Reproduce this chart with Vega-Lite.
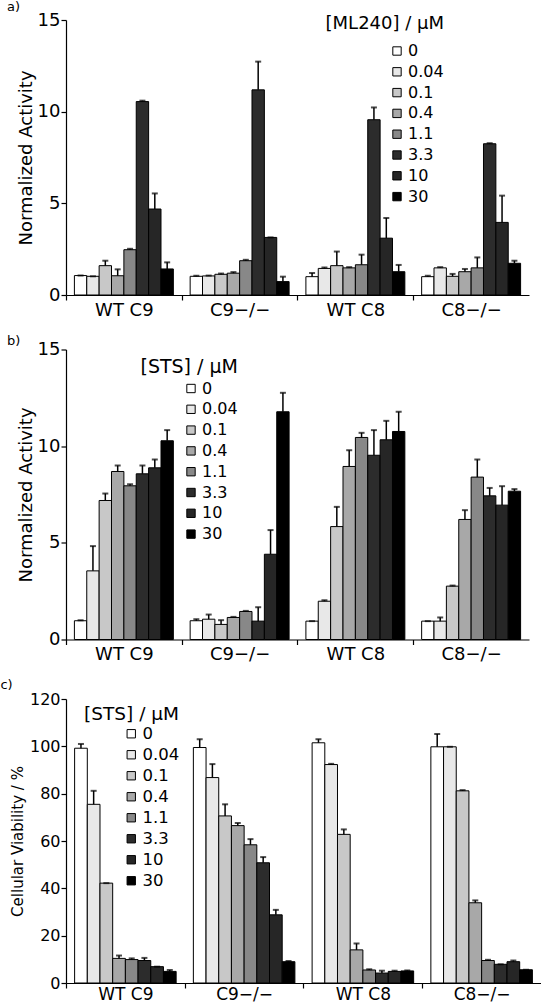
{
  "$schema": "https://vega.github.io/schema/vega-lite/v6.json",
  "padding": {"left": 0, "top": 1, "right": 0, "bottom": 0},
  "config": {
    "font": "DejaVu Sans",
    "view": {"stroke": null},
    "axis": {"domainColor": "black", "tickColor": "black", "labelColor": "black", "titleColor": "black", "labelFontSize": 18, "titleFontSize": 18, "titleFontWeight": "normal", "tickSize": 5, "grid": false, "domainWidth": 1.2, "tickWidth": 1.2},
    "legend": {"labelFontSize": 16, "titleFontSize": 18, "titleFontWeight": "normal", "labelColor": "black", "titleColor": "black", "symbolType": "square", "symbolSize": 70, "symbolStrokeColor": "black", "symbolStrokeWidth": 1, "rowPadding": 4.8, "labelOffset": 3, "padding": 0, "titleAnchor": "end"},
    "title": {"anchor": "start", "frame": "bounds", "fontSize": 13, "fontWeight": "normal", "color": "black", "dx": -10}
  },
  "datasets": {
    "a": [
      {"g":"WT C9","c":"0","v":1.06,"hi":1.06},{"g":"WT C9","c":"0.04","v":1.02,"hi":1.02},{"g":"WT C9","c":"0.1","v":1.6,"hi":1.87},{"g":"WT C9","c":"0.4","v":1.05,"hi":1.4},{"g":"WT C9","c":"1.1","v":2.47,"hi":2.52},{"g":"WT C9","c":"3.3","v":10.55,"hi":10.6},{"g":"WT C9","c":"10","v":4.69,"hi":5.54},{"g":"WT C9","c":"30","v":1.42,"hi":1.78},
      {"g":"C9−/−","c":"0","v":1.02,"hi":1.05},{"g":"C9−/−","c":"0.04","v":1.04,"hi":1.06},{"g":"C9−/−","c":"0.1","v":1.13,"hi":1.17},{"g":"C9−/−","c":"0.4","v":1.19,"hi":1.25},{"g":"C9−/−","c":"1.1","v":1.87,"hi":1.92},{"g":"C9−/−","c":"3.3","v":11.19,"hi":12.73},{"g":"C9−/−","c":"10","v":3.14,"hi":3.14},{"g":"C9−/−","c":"30","v":0.73,"hi":1.0},
      {"g":"WT C8","c":"0","v":1.0,"hi":1.2},{"g":"WT C8","c":"0.04","v":1.45,"hi":1.5},{"g":"WT C8","c":"0.1","v":1.6,"hi":2.37},{"g":"WT C8","c":"0.4","v":1.48,"hi":1.52},{"g":"WT C8","c":"1.1","v":1.65,"hi":2.2},{"g":"WT C8","c":"3.3","v":9.56,"hi":10.23},{"g":"WT C8","c":"10","v":3.1,"hi":4.2},{"g":"WT C8","c":"30","v":1.27,"hi":1.64},
      {"g":"C8−/−","c":"0","v":1.0,"hi":1.05},{"g":"C8−/−","c":"0.04","v":1.48,"hi":1.52},{"g":"C8−/−","c":"0.1","v":1.02,"hi":1.15},{"g":"C8−/−","c":"0.4","v":1.27,"hi":1.42},{"g":"C8−/−","c":"1.1","v":1.48,"hi":2.05},{"g":"C8−/−","c":"3.3","v":8.25,"hi":8.28},{"g":"C8−/−","c":"10","v":3.96,"hi":5.42},{"g":"C8−/−","c":"30","v":1.73,"hi":1.87}
    ],
    "b": [
      {"g":"WT C9","c":"0","v":0.97,"hi":0.99},{"g":"WT C9","c":"0.04","v":3.55,"hi":4.83},{"g":"WT C9","c":"0.1","v":7.19,"hi":7.55},{"g":"WT C9","c":"0.4","v":8.69,"hi":9.0},{"g":"WT C9","c":"1.1","v":7.95,"hi":8.03},{"g":"WT C9","c":"3.3","v":8.57,"hi":9.0},{"g":"WT C9","c":"10","v":8.88,"hi":9.31},{"g":"WT C9","c":"30","v":10.28,"hi":10.83},
      {"g":"C9−/−","c":"0","v":0.97,"hi":1.05},{"g":"C9−/−","c":"0.04","v":1.05,"hi":1.29},{"g":"C9−/−","c":"0.1","v":0.78,"hi":1.0},{"g":"C9−/−","c":"0.4","v":1.14,"hi":1.17},{"g":"C9−/−","c":"1.1","v":1.45,"hi":1.48},{"g":"C9−/−","c":"3.3","v":0.95,"hi":1.67},{"g":"C9−/−","c":"10","v":4.41,"hi":5.66},{"g":"C9−/−","c":"30","v":11.78,"hi":12.76},
      {"g":"WT C8","c":"0","v":0.95,"hi":0.95},{"g":"WT C8","c":"0.04","v":1.98,"hi":2.03},{"g":"WT C8","c":"0.1","v":5.84,"hi":6.86},{"g":"WT C8","c":"0.4","v":8.95,"hi":9.79},{"g":"WT C8","c":"1.1","v":10.45,"hi":10.69},{"g":"WT C8","c":"3.3","v":9.53,"hi":10.83},{"g":"WT C8","c":"10","v":10.33,"hi":11.31},{"g":"WT C8","c":"30","v":10.76,"hi":11.78},
      {"g":"C8−/−","c":"0","v":0.95,"hi":0.95},{"g":"C8−/−","c":"0.04","v":0.95,"hi":1.14},{"g":"C8−/−","c":"0.1","v":2.76,"hi":2.79},{"g":"C8−/−","c":"0.4","v":6.21,"hi":6.69},{"g":"C8−/−","c":"1.1","v":8.4,"hi":9.31},{"g":"C8−/−","c":"3.3","v":7.43,"hi":7.84},{"g":"C8−/−","c":"10","v":6.95,"hi":7.93},{"g":"C8−/−","c":"30","v":7.67,"hi":7.78}
    ],
    "c": [
      {"g":"WT C9","c":"0","v":99.2,"hi":101},{"g":"WT C9","c":"0.04","v":75.5,"hi":81.2},{"g":"WT C9","c":"0.1","v":42.2,"hi":42.2},{"g":"WT C9","c":"0.4","v":10.4,"hi":11.6},{"g":"WT C9","c":"1.1","v":9.9,"hi":10.4},{"g":"WT C9","c":"3.3","v":9.5,"hi":10.6},{"g":"WT C9","c":"10","v":6.9,"hi":6.9},{"g":"WT C9","c":"30","v":4.9,"hi":5.5},
      {"g":"C9−/−","c":"0","v":99.5,"hi":103},{"g":"C9−/−","c":"0.04","v":86.8,"hi":92.5},{"g":"C9−/−","c":"0.1","v":70.6,"hi":75.5},{"g":"C9−/−","c":"0.4","v":66.5,"hi":67.6},{"g":"C9−/−","c":"1.1","v":58.4,"hi":60.8},{"g":"C9−/−","c":"3.3","v":50.8,"hi":53.2},{"g":"C9−/−","c":"10","v":28.8,"hi":30.9},{"g":"C9−/−","c":"30","v":9.0,"hi":9.3},
      {"g":"WT C8","c":"0","v":101.5,"hi":103},{"g":"WT C8","c":"0.04","v":92.3,"hi":92.6},{"g":"WT C8","c":"0.1","v":62.8,"hi":64.9},{"g":"WT C8","c":"0.4","v":14.0,"hi":16.7},{"g":"WT C8","c":"1.1","v":5.5,"hi":5.8},{"g":"WT C8","c":"3.3","v":4.2,"hi":5.2},{"g":"WT C8","c":"10","v":4.9,"hi":5.2},{"g":"WT C8","c":"30","v":5.1,"hi":5.3},
      {"g":"C8−/−","c":"0","v":99.8,"hi":105.2},{"g":"C8−/−","c":"0.04","v":99.8,"hi":99.8},{"g":"C8−/−","c":"0.1","v":81.2,"hi":81.5},{"g":"C8−/−","c":"0.4","v":33.9,"hi":34.9},{"g":"C8−/−","c":"1.1","v":9.5,"hi":9.8},{"g":"C8−/−","c":"3.3","v":7.9,"hi":7.9},{"g":"C8−/−","c":"10","v":9.0,"hi":9.5},{"g":"C8−/−","c":"30","v":5.6,"hi":5.6}
    ]
  },
  "spacing": 15.5,
  "resolve": {"scale": {"x": "independent", "xOffset": "independent", "y": "independent", "fill": "independent"}, "legend": {"fill": "independent"}, "axis": {"x": "independent", "y": "independent"}},
  "vconcat": [
    {"hconcat": [{
      "width": 463, "height": 275,
      "title": {"text": "a)", "offset": -3},
      "data": {"name": "a"},
      "encoding": {
        "x": {"field": "g", "type": "nominal", "sort": ["WT C9","C9−/−","WT C8","C8−/−"], "scale": {"paddingInner": 0.145, "paddingOuter": 0.0725}, "axis": {"title": null, "labelAngle": 0, "tickOffset": -57.9, "labelOffset": 57.9, "labelPadding": 1}},
        "xOffset": {"field": "c", "type": "nominal", "sort": ["0","0.04","0.1","0.4","1.1","3.3","10","30"], "scale": {"paddingInner": 0, "paddingOuter": 0}}
      },
      "layer": [
        {
          "mark": {"type": "bar", "stroke": "black", "strokeWidth": 1},
          "encoding": {
            "y": {"field": "v", "type": "quantitative", "scale": {"domain": [0, 15], "nice": false}, "axis": {"title": "Normalized Activity", "values": [0,5,10,15], "labelPadding": 1, "titlePadding": 2}},
            "fill": {"field": "c", "type": "nominal", "sort": ["0","0.04","0.1","0.4","1.1","3.3","10","30"], "scale": {"domain": ["0","0.04","0.1","0.4","1.1","3.3","10","30"], "range": ["#ffffff","#e8e8e8","#c8c8c8","#a8a8a8","#888888","#2c2c2c","#262626","#000000"]}, "legend": {"title": "[ML240] / µM", "orient": "none", "legendX": 260, "legendY": -5, "titlePadding": 10}}
          }
        },
        {"mark": {"type": "rule", "color": "black", "strokeWidth": 1.5}, "encoding": {"y": {"field": "v", "type": "quantitative"}, "y2": {"field": "hi"}}},
        {"mark": {"type": "tick", "color": "black", "size": 6, "thickness": 2}, "encoding": {"y": {"field": "hi", "type": "quantitative"}}}
      ]
    }]},
    {"hconcat": [{
      "width": 463, "height": 290,
      "title": {"text": "b)", "offset": -7},
      "data": {"name": "b"},
      "encoding": {
        "x": {"field": "g", "type": "nominal", "sort": ["WT C9","C9−/−","WT C8","C8−/−"], "scale": {"paddingInner": 0.145, "paddingOuter": 0.0725}, "axis": {"title": null, "labelAngle": 0, "tickOffset": -57.9, "labelOffset": 57.9, "labelPadding": 1}},
        "xOffset": {"field": "c", "type": "nominal", "sort": ["0","0.04","0.1","0.4","1.1","3.3","10","30"], "scale": {"paddingInner": 0, "paddingOuter": 0}}
      },
      "layer": [
        {
          "mark": {"type": "bar", "stroke": "black", "strokeWidth": 1},
          "encoding": {
            "y": {"field": "v", "type": "quantitative", "scale": {"domain": [0, 15], "nice": false}, "axis": {"title": "Normalized Activity", "values": [0,5,10,15], "labelPadding": 1, "titlePadding": 2}},
            "fill": {"field": "c", "type": "nominal", "sort": ["0","0.04","0.1","0.4","1.1","3.3","10","30"], "scale": {"domain": ["0","0.04","0.1","0.4","1.1","3.3","10","30"], "range": ["#ffffff","#e8e8e8","#c8c8c8","#a8a8a8","#888888","#2c2c2c","#262626","#000000"]}, "legend": {"title": "[STS] / µM", "orient": "none", "legendX": 74, "legendY": 8, "titlePadding": 4, "titleFontSize": 19}}
          }
        },
        {"mark": {"type": "rule", "color": "black", "strokeWidth": 1.5}, "encoding": {"y": {"field": "v", "type": "quantitative"}, "y2": {"field": "hi"}}},
        {"mark": {"type": "tick", "color": "black", "size": 6, "thickness": 2}, "encoding": {"y": {"field": "hi", "type": "quantitative"}}}
      ]
    }]},
    {"hconcat": [{
      "width": 475, "height": 284,
      "title": {"text": "c)", "offset": -1},
      "data": {"name": "c"},
      "encoding": {
        "x": {"field": "g", "type": "nominal", "sort": ["WT C9","C9−/−","WT C8","C8−/−"], "scale": {"paddingInner": 0.145, "paddingOuter": 0.0725}, "axis": {"title": null, "labelAngle": 0, "tickOffset": -59.4, "labelOffset": 59.4, "labelPadding": -2, "labelFontSize": 17}},
        "xOffset": {"field": "c", "type": "nominal", "sort": ["0","0.04","0.1","0.4","1.1","3.3","10","30"], "scale": {"paddingInner": 0, "paddingOuter": 0}}
      },
      "layer": [
        {
          "mark": {"type": "bar", "stroke": "black", "strokeWidth": 1},
          "encoding": {
            "y": {"field": "v", "type": "quantitative", "scale": {"domain": [0, 120], "nice": false}, "axis": {"title": "Cellular Viability / %", "values": [0,20,40,60,80,100,120], "labelPadding": 1, "titlePadding": 4, "labelFontSize": 16, "titleFontSize": 15}},
            "fill": {"field": "c", "type": "nominal", "sort": ["0","0.04","0.1","0.4","1.1","3.3","10","30"], "scale": {"domain": ["0","0.04","0.1","0.4","1.1","3.3","10","30"], "range": ["#ffffff","#e8e8e8","#c8c8c8","#a8a8a8","#888888","#2c2c2c","#262626","#000000"]}, "legend": {"title": "[STS] / µM", "orient": "none", "legendX": 18, "legendY": 6, "titlePadding": 2, "titleFontSize": 18.5, "labelFontSize": 16.5, "rowPadding": 4}}
          }
        },
        {"mark": {"type": "rule", "color": "black", "strokeWidth": 1.5}, "encoding": {"y": {"field": "v", "type": "quantitative"}, "y2": {"field": "hi"}}},
        {"mark": {"type": "tick", "color": "black", "size": 6, "thickness": 2}, "encoding": {"y": {"field": "hi", "type": "quantitative"}}}
      ]
    }]}
  ]
}
